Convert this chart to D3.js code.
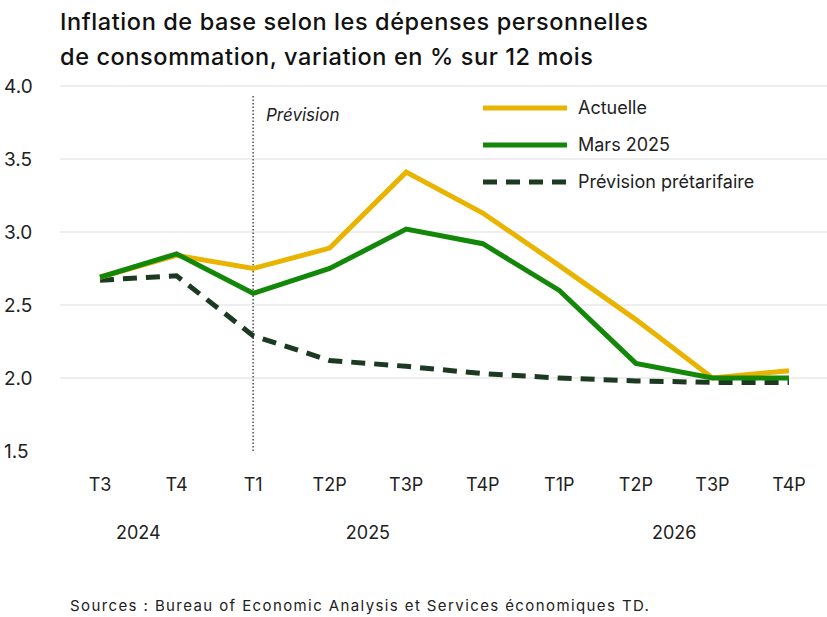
<!DOCTYPE html><html><head><meta charset="utf-8"><script src="https://d3js.org/d3.v7.min.js"></script>
<style>body{margin:0;background:#fff}text{font-family:Inter,"Noto Sans",sans-serif}</style></head><body>
<svg id="c" width="827" height="617"></svg>
<script>
const categories=["T3","T4","T1","T2P","T3P","T4P","T1P","T2P","T3P","T4P"];
const years=[{label:"2024",i:0.5},{label:"2025",i:3.5},{label:"2026",i:7.5}];
const actuelle=[2.69,2.84,2.75,2.89,3.41,3.13,2.77,2.40,2.00,2.05];
const mars=[2.69,2.85,2.58,2.75,3.02,2.92,2.60,2.10,2.00,2.00];
const pre=[2.67,2.70,2.29,2.12,2.08,2.03,2.00,1.98,1.97,1.97];
const yTicks=[1.5,2.0,2.5,3.0,3.5,4.0];
const svg=d3.select("#c");
const x=d3.scaleLinear().domain([0,9]).range([100,789]);
const y=d3.scaleLinear().domain([1.5,4.0]).range([451,86]);
svg.append("g").selectAll("line").data(yTicks.slice(1)).join("line")
 .attr("x1",60).attr("x2",827).attr("y1",d=>y(d)).attr("y2",d=>y(d)).attr("stroke","#ddd");
svg.append("g").selectAll("text").data(yTicks).join("text").attr("x",4).attr("y",d=>y(d)+7)
 .attr("font-size",19).attr("fill","#222").text(d=>d.toFixed(1));
svg.append("g").selectAll("text").data(categories).join("text").attr("x",(d,i)=>x(i)).attr("y",491)
 .attr("text-anchor","middle").attr("font-size",18).attr("fill","#222").text(d=>d);
svg.append("g").selectAll("text").data(years).join("text").attr("x",d=>x(d.i)).attr("y",539)
 .attr("text-anchor","middle").attr("font-size",18).attr("fill","#222").text(d=>d.label);
svg.append("line").attr("x1",x(2)).attr("x2",x(2)).attr("y1",96).attr("y2",451).attr("stroke","#333").attr("stroke-width",1.3).attr("stroke-dasharray","1.5,2");
svg.append("text").attr("x",266).attr("y",121).attr("font-size",17).attr("font-style","italic").attr("fill","#222").text("Prévision");
const line=d3.line().x((d,i)=>x(i)).y(d=>y(d));
const series=[{n:"Actuelle",d:actuelle,c:"#E8B400",da:null},{n:"Mars 2025",d:mars,c:"#138808",da:null},{n:"Prévision prétarifaire",d:pre,c:"#1c3a22",da:"14,9"}];
[2,0,1].forEach(k=>{const s=series[k];svg.append("path").attr("d",line(s.d)).attr("fill","none").attr("stroke",s.c).attr("stroke-width",5).attr("stroke-dasharray",s.da);});
series.forEach((s,i)=>{const yy=108+i*37;
 svg.append("line").attr("x1",483).attr("x2",567).attr("y1",yy).attr("y2",yy).attr("stroke",s.c).attr("stroke-width",5).attr("stroke-dasharray",s.da);
 svg.append("text").attr("x",578).attr("y",yy+6).attr("font-size",18).attr("fill","#222").text(s.n);});
svg.append("text").attr("x",60).attr("y",30).attr("font-size",23.5).attr("letter-spacing",0.6).attr("font-weight",500).attr("fill","#111").text("Inflation de base selon les dépenses personnelles");
svg.append("text").attr("x",60).attr("y",65).attr("font-size",23.5).attr("letter-spacing",0.6).attr("font-weight",500).attr("fill","#111").text("de consommation, variation en % sur 12 mois");
svg.append("text").attr("x",70).attr("y",611).attr("font-size",15).attr("letter-spacing",1.4).attr("fill","#222").text("Sources : Bureau of Economic Analysis et Services économiques TD.");
</script></body></html>
